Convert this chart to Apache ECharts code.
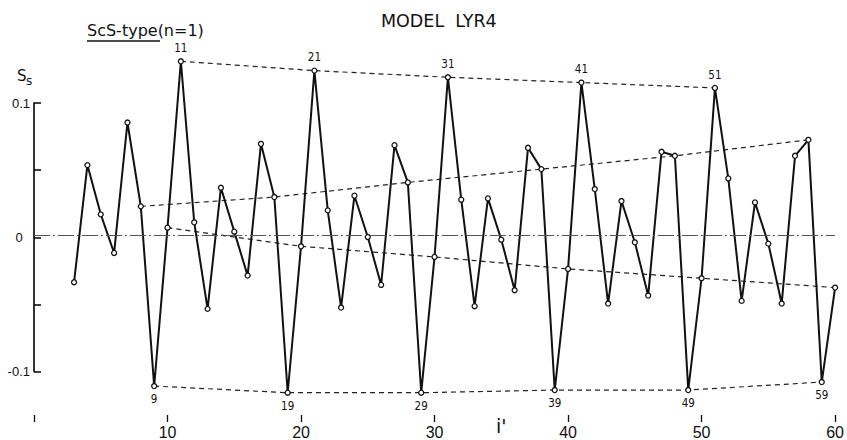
<!DOCTYPE html>
<html><head><meta charset="utf-8">
<script src="https://cdn.jsdelivr.net/npm/echarts@6/dist/echarts.min.js"></script>
<style>html,body{margin:0;padding:0;background:#fff}#c{width:847px;height:440px}</style>
</head><body><div id="c"></div>
<script>
// i' index values
const iValues = [3,4,5,6,7,8,9,10,11,12,13,14,15,16,17,18,19,20,21,22,23,24,25,26,27,28,29,30,
  31,32,33,34,35,36,37,38,39,40,41,42,43,44,45,46,47,48,49,50,51,52,53,54,55,56,57,58,59,60];
// S_s values
const sValues = [-0.035,0.053,0.016,-0.013,0.085,0.022,-0.113,0.006,0.131,0.010,-0.055,0.036,0.003,-0.030,0.069,0.029,-0.118,-0.008,
  0.124,0.019,-0.054,0.030,-0.001,-0.037,0.068,0.040,-0.118,-0.016,
  0.119,0.027,-0.053,0.028,-0.003,-0.041,0.066,0.050,-0.116,-0.025,
  0.115,0.035,-0.051,0.026,-0.005,-0.045,0.063,0.060,-0.116,-0.032,
  0.111,0.043,-0.049,0.025,-0.006,-0.051,0.060,0.072,-0.110,-0.039];
// envelope (dashed) connections, by index i'
const topPeaks = [11,21,31,41,51];
const bottomPeaks = [9,19,29,39,49,59];
const risingEnvelope = [8,18,28,38,48,58];
const fallingEnvelope = [10,20,30,40,50,60];
// ticks
const xTickLabels = {0:'',10:'10',20:'20',30:'30',40:'40',50:'50',60:'60'};
const yTickLabels = {'-0.1':'-0.1','0':'0  ','0.1':'0.1'};

const valueAt = i => sValues[iValues.indexOf(i)];
const envData = arr => arr.map(i => [i, valueAt(i)]);

const mainData = iValues.map((i, k) => {
  const item = {value: [i, sValues[k]]};
  if (topPeaks.includes(i)) item.label = {show: true, position: 'top', distance: 4, formatter: String(i)};
  else if (bottomPeaks.includes(i)) item.label = {show: true, position: 'bottom', distance: 4, formatter: String(i)};
  return item;
});

const narrowFont = "'Liberation Sans Narrow','DejaVu Sans Condensed',sans-serif";
const dashStyle = {type: [5, 4], width: 1.2, color: '#222'};
const envSeries = arr => ({type: 'line', data: envData(arr), symbol: 'none', lineStyle: dashStyle, z: 2, silent: true});

const chart = echarts.init(document.getElementById('c'), null, {renderer: 'svg'});
chart.setOption({
  animation: false,
  backgroundColor: '#fff',
  grid: [
    {left: 34, right: 11, top: 36, bottom: 14.8, containLabel: false},
    // grid carrying only the visible S_s axis spine (-0.1 .. 0.1), same scale as the main grid
    {left: 34, right: 11, top: 103.1, bottom: 68.6, containLabel: false}
  ],
  xAxis: [
    {
      type: 'value', min: 0, max: 60, interval: 10, gridIndex: 0,
      axisLine: {show: false, onZero: false}, splitLine: {show: false},
      axisTick: {show: true, inside: true, length: 7, lineStyle: {color: '#111', width: 1.3}},
      axisLabel: {margin: 2, fontSize: 16, color: '#111', fontFamily: "'Liberation Sans',Arial,sans-serif",
        formatter: v => xTickLabels[v] !== undefined ? xTickLabels[v] : ''}
    },
    {type: 'value', min: 0, max: 60, gridIndex: 1, show: false}
  ],
  yAxis: [
    {type: 'value', min: -0.14, max: 0.15, gridIndex: 0, show: false},
    {
      type: 'value', min: -0.1, max: 0.1, interval: 0.05, gridIndex: 1,
      axisLine: {show: true, onZero: false, lineStyle: {color: '#000', width: 1.6}},
      splitLine: {show: false},
      axisTick: {show: true, inside: true, length: 7, lineStyle: {color: '#000', width: 1.5}},
      axisLabel: {margin: 4, fontSize: 13, color: '#111', fontFamily: "'Liberation Sans',Arial,sans-serif",
        formatter: v => yTickLabels[String(Math.round(v * 100) / 100)] || ''}
    }
  ],
  series: [
    envSeries(topPeaks),
    envSeries(bottomPeaks),
    envSeries(risingEnvelope),
    envSeries(fallingEnvelope),
    {
      type: 'line', data: mainData, z: 3,
      symbol: 'circle', symbolSize: 5, showAllSymbol: true,
      lineStyle: {color: '#111', width: 2},
      itemStyle: {color: '#fff', borderColor: '#111', borderWidth: 1.3},
      label: {show: false, fontSize: 11.5, color: '#111', fontFamily: narrowFont},
      emphasis: {disabled: true},
      markLine: {
        silent: true, symbol: 'none', label: {show: false},
        lineStyle: {color: '#555', width: 1, type: [16, 3, 2, 3]},
        data: [[{coord: [0, 0]}, {coord: [60, 0]}]]
      }
    }
  ],
  graphic: [
    {type: 'text', left: 381, top: 12, style: {text: 'MODEL  LYR4', fontSize: 17.5, fontFamily: "'DejaVu Sans',sans-serif", fill: '#111'}},
    {type: 'text', left: 87, top: 22, style: {text: 'ScS-type(n=1)', fontSize: 16, fontFamily: "'DejaVu Sans',sans-serif", fill: '#111'}},
    {type: 'line', shape: {x1: 87, y1: 41, x2: 160, y2: 41}, style: {stroke: '#111', lineWidth: 1.5}},
    {type: 'text', left: 17, top: 68, style: {text: 'S', fontSize: 15, fontFamily: "'DejaVu Sans',sans-serif", fill: '#111'}},
    {type: 'text', left: 26, top: 75, style: {text: 's', fontSize: 12, fontFamily: "'DejaVu Sans',sans-serif", fill: '#111'}},
    {type: 'text', left: 496, top: 416, style: {text: "i'", fontSize: 19, fontFamily: "'DejaVu Sans',sans-serif", fill: '#111'}}
  ]
});
</script></body></html>
